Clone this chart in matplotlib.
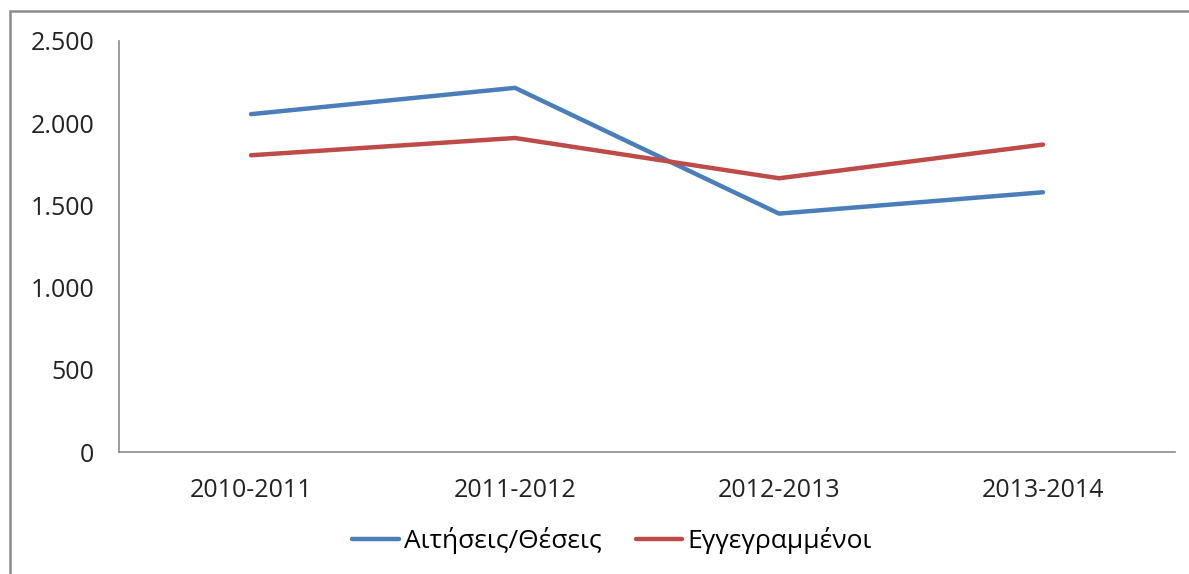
import matplotlib
matplotlib.use('Agg')
import matplotlib.pyplot as plt
from matplotlib.patches import Rectangle
from matplotlib.ticker import FuncFormatter

# Data
periods = ['2010-2011', '2011-2012', '2012-2013', '2013-2014']
applications = [2055, 2215, 1450, 1580]
registered = [1805, 1910, 1665, 1870]
series_names = ['Αιτήσεις/Θέσεις', 'Εγγεγραμμένοι']
yticks = [0, 500, 1000, 1500, 2000, 2500]

plt.rcParams['font.family'] = ['Open Sans', 'DejaVu Sans']
fs = 18

fig = plt.figure(figsize=(11.89, 5.74), dpi=100)
W, H = 1189.0, 574.0

# chart-area border (right and bottom are cut off in the source)
top = 1 - 11 / H
border = Rectangle((10 / W, -0.2), 1.3, top + 0.2, transform=fig.transFigure,
                   fill=False, edgecolor='#8c8c8c', linewidth=1.8)
fig.add_artist(border)

ax = fig.add_axes([119 / W, 1 - 452 / H, (1175 - 119) / W, (452 - 41) / H])
x = range(len(periods))
ax.plot(x, applications, color='#4A7EBB', linewidth=3.2, solid_capstyle='round',
        label=series_names[0])
ax.plot(x, registered, color='#BE4B48', linewidth=3.2, solid_capstyle='round',
        label=series_names[1])

ax.set_xlim(-0.5, len(periods) - 0.5)
ax.set_ylim(0, 2500)
ax.set_xticks(list(x))
ax.set_xticklabels(periods)
ax.set_yticks(yticks)
ax.yaxis.set_major_formatter(FuncFormatter(lambda v, p: f'{v:,.0f}'.replace(',', '.')))

for s in ['top', 'right']:
    ax.spines[s].set_visible(False)
for s in ['left', 'bottom']:
    ax.spines[s].set_color('#8c8c8c')
    ax.spines[s].set_linewidth(1.2)
ax.tick_params(axis='y', length=0, pad=18, labelsize=fs, labelcolor='#222222')
ax.tick_params(axis='x', length=0, pad=19, labelsize=fs, labelcolor='#222222')

fig.legend(loc='center', bbox_to_anchor=(612 / W, 1 - 541 / H), ncol=2, frameon=False,
           fontsize=19, handlelength=1.75, handletextpad=0.2, columnspacing=1.3)

fig.savefig('out.png', dpi=100)
